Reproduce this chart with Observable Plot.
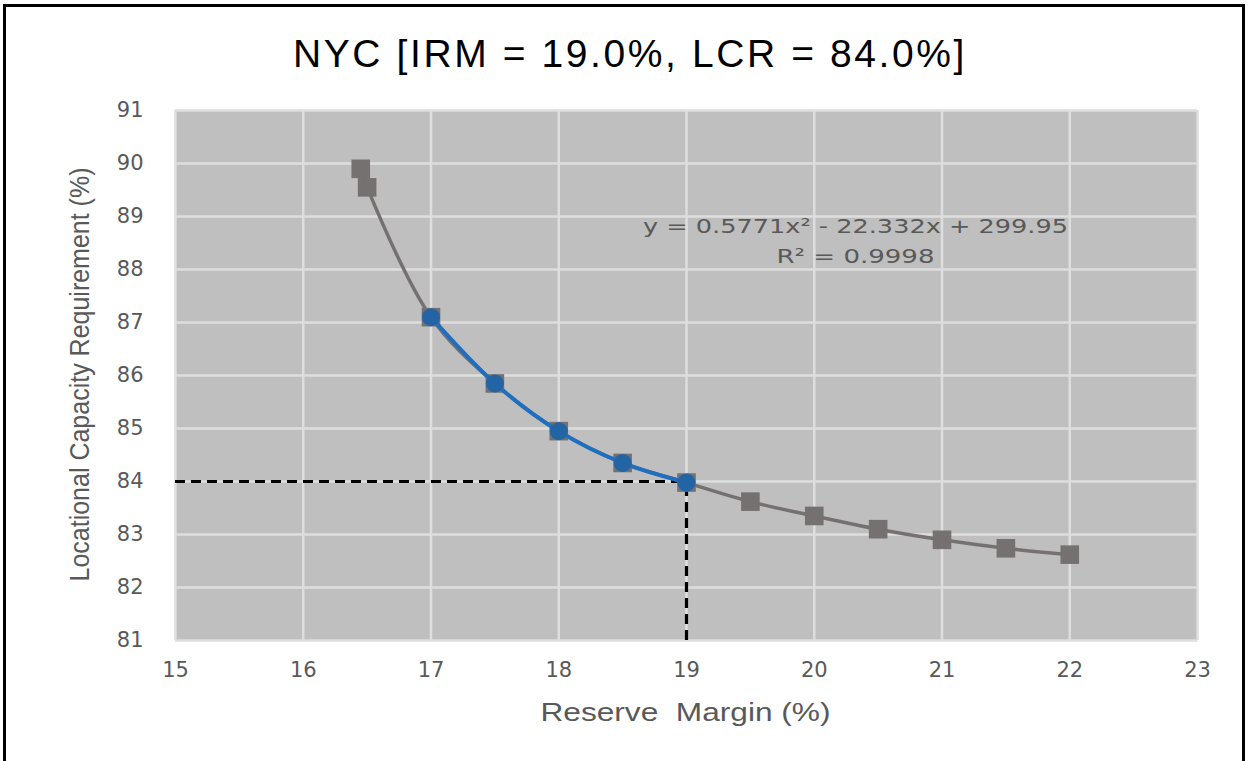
<!DOCTYPE html>
<html><head><meta charset="utf-8">
<script src="https://cdn.jsdelivr.net/npm/d3@7"></script>
<script src="https://cdn.jsdelivr.net/npm/@observablehq/plot@0.6"></script>
<style>
body{margin:0;background:#fff;}
#wrap{position:relative;width:1249px;height:761px;overflow:hidden;background:#fff;}
#border{position:absolute;left:3px;top:4px;width:1242px;height:820px;border:3px solid #000;box-sizing:border-box;}
#title{position:absolute;top:31px;left:0;width:1260px;text-align:center;font-family:"Liberation Sans",sans-serif;font-size:39px;letter-spacing:2.6px;color:#000;line-height:1.2;}
#chart{position:absolute;left:0;top:0;}
.dv, .dv text{font-family:"DejaVu Sans", Verdana, sans-serif !important;}
</style></head><body>
<div id="wrap"><div id="border"></div><div id="title">NYC [IRM = 19.0%, LCR = 84.0%]</div><div id="chart"></div></div>
<script>
// Data
const reserveMargin = [16.45, 16.5, 17, 17.5, 18, 18.5, 19, 19.5, 20, 20.5, 21, 21.5, 22];
const lcrValues     = [89.9, 89.55, 87.1, 85.85, 84.95, 84.35, 83.98, 83.62, 83.35, 83.1, 82.9, 82.74, 82.62];
const fitRM  = [17, 17.5, 18, 18.5, 19];
const fitLCR = [87.1, 85.85, 84.95, 84.35, 83.98];
const xTicks = [15, 16, 17, 18, 19, 20, 21, 22, 23];
const yTicks = [81, 82, 83, 84, 85, 86, 87, 88, 89, 90, 91];
const irm = 19.0, lcr = 84.0;
const equation = "y = 0.5771x² - 22.332x + 299.95";
const rsq = "R² = 0.9998";
const xLabel = "Reserve  Margin (%)";
const yLabel = "Locational Capacity Requirement (%)";

const all = reserveMargin.map((x, i) => ({x, y: lcrValues[i]}));
const fit = fitRM.map((x, i) => ({x, y: fitLCR[i]}));
const xMin = xTicks[0], yMin = yTicks[0];

const plot = Plot.plot({
  width: 1249, height: 761,
  marginLeft: 175, marginRight: 52, marginTop: 110, marginBottom: 121,
  x: {domain: [xTicks[0], xTicks[xTicks.length-1]], ticks: xTicks},
  y: {domain: [yTicks[0], yTicks[yTicks.length-1]], ticks: yTicks},
  style: {background: "transparent", overflow: "visible"},
  marks: [
    Plot.frame({fill: "#bfbfbf", stroke: null}),
    Plot.gridX(xTicks, {stroke: "#dedede", strokeOpacity: 1, strokeWidth: 2.5}),
    Plot.gridY(yTicks, {stroke: "#dedede", strokeOpacity: 1, strokeWidth: 2.5}),
    Plot.axisX(xTicks, {tickSize: 0, tickPadding: 22, fontSize: 21, fill: "#595959", tickFormat: "d", label: null}),
    Plot.axisY(yTicks, {tickSize: 0, tickPadding: 32, fontSize: 21, fill: "#595959", tickFormat: "d", label: null}),
    Plot.text([xLabel], {frameAnchor: "bottom", dx: -1, dy: 80, fontSize: 26, fill: "#595959",
      fontFamily: "Liberation Sans, sans-serif"}),
    Plot.text([yLabel], {frameAnchor: "left", textAnchor: "middle", dx: -95, dy: -1, rotate: -90, fontSize: 27, fill: "#595959",
      fontFamily: "Liberation Sans, sans-serif"}),
    Plot.text([equation], {frameAnchor: "top-left", textAnchor: "middle", dx: 680, dy: 108, fontSize: 20, fill: "#595959"}),
    Plot.text([rsq], {frameAnchor: "top-left", textAnchor: "middle", dx: 680, dy: 138, fontSize: 20, fill: "#595959"}),
    Plot.ruleY([lcr], {x1: xMin, x2: irm, stroke: "#000", strokeWidth: 3.2, strokeDasharray: "10,6"}),
    Plot.ruleX([irm], {y1: yMin, y2: lcr, stroke: "#000", strokeWidth: 3.2, strokeDasharray: "10,6"}),
    Plot.line(all, {x: "x", y: "y", curve: "catmull-rom", stroke: "#767171", strokeWidth: 3.5}),
    Plot.dot(all, {x: "x", y: "y", symbol: "square", r: 10.5, fill: "#767171", stroke: null}),
    Plot.line(fit, {x: "x", y: "y", curve: "catmull-rom", stroke: "#1f6fc0", strokeWidth: 4}),
    Plot.dot(fit, {x: "x", y: "y", symbol: "circle", r: 9, fill: "#2364a5", stroke: null})
  ]
});
const svg = d3.select(plot);
// Verdana-like font for tick labels and the trend equation
svg.selectAll("g[aria-label$='tick label']").classed("dv", true);
// Narrow-font look: compress texts horizontally to the reference widths
const fitText = (content, len) => svg.selectAll("text")
  .filter(function(){ return this.textContent === content; })
  .attr("textLength", len).attr("lengthAdjust", "spacingAndGlyphs");
fitText(xLabel, 290);
fitText(yLabel, 414);
fitText(equation, 425).classed("dv", true);
fitText(rsq, 158).classed("dv", true);
document.getElementById("chart").appendChild(plot);
</script>
</body></html>
